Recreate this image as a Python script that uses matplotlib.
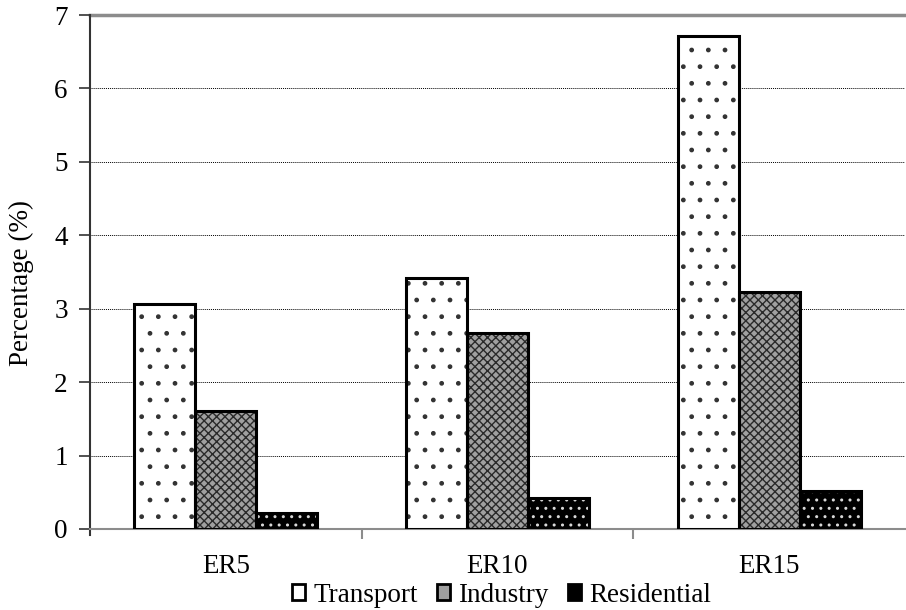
import matplotlib
matplotlib.use("Agg")
import matplotlib.pyplot as plt
from matplotlib.patches import Patch
import numpy as np

categories = ["ER5", "ER10", "ER15"]
series_names = ["Transport", "Industry", "Residential"]
transport = [3.06, 3.42, 6.71]
industry = [1.61, 2.67, 3.23]
residential = [0.22, 0.42, 0.52]
y_ticks = [0, 1, 2, 3, 4, 5, 6, 7]

plt.rcParams["font.family"] = ["Liberation Serif", "DejaVu Serif"]
plt.rcParams["hatch.linewidth"] = 1.0

FS = 19.5

fig = plt.figure(figsize=(9.06, 6.10), dpi=100)
ax = fig.add_axes([0.0993, 0.1328, 0.8997, 0.8426])

x = np.arange(len(categories))
w = 0.2245

styles = [
    dict(face="white", hatch_color="#333333", hatch="."),
    dict(face="#a0a0a0", hatch_color="#2a2a2a", hatch="xxxx"),
    dict(face="black", hatch_color="#d8d8d8", hatch=".."),
]
data = [transport, industry, residential]

for i, (vals, st) in enumerate(zip(data, styles)):
    pos = x + (i - 1) * w
    ax.bar(pos, vals, width=w, color=st["face"], edgecolor=st["hatch_color"],
           hatch=st["hatch"], linewidth=0, zorder=3)
    ax.bar(pos, vals, width=w, fill=False, edgecolor="black", linewidth=2.2, zorder=4)

ax.set_xlim(-0.5, 2.5)
ax.set_ylim(0, 7)
ax.set_yticks(y_ticks)
ax.set_yticklabels([str(t) for t in y_ticks], fontsize=FS)

# gridlines: dotted for interior, solid grey at the top
for t in y_ticks[1:-1]:
    ax.axhline(t, color="black", linestyle=(0, (1, 1)), linewidth=0.7, zorder=1)
ax.axhline(7, color="#8c8c8c", linewidth=2.5, zorder=1, clip_on=False)

# category labels centered, ticks at category boundaries
ax.set_xticks([0.5, 1.5], minor=False)
ax.set_xticklabels(["", ""])
ax.tick_params(axis="x", which="major", direction="out", length=7, width=1.5, color="#8c8c8c")
ax.set_xticks(x, minor=True)
ax.set_xticklabels(categories, minor=True, fontsize=FS)
ax.tick_params(axis="x", which="minor", length=0, pad=18)
ax.tick_params(axis="y", direction="out", length=8, width=1.2, pad=8, color="#333333")

ax.spines["top"].set_visible(False)
ax.spines["right"].set_visible(False)
ax.spines["left"].set_color("#333333")
ax.spines["left"].set_linewidth(1.5)
ax.spines["bottom"].set_color("#8c8c8c")
ax.spines["bottom"].set_linewidth(1.5)
ax.spines["left"].set_bounds(-0.08, 7)

ax.set_ylabel("Percentage (%)", fontsize=FS)
ax.yaxis.set_label_coords(-0.069, 0.479)

handles = []
for st in styles:
    handles.append(Patch(facecolor=st["face"], edgecolor="black", linewidth=2.0))
leg = ax.legend(handles, series_names, loc="center", bbox_to_anchor=(0.505, -0.129),
                ncol=3, frameon=False, fontsize=FS, handlelength=0.5, handleheight=0.5,
                handletextpad=0.3, columnspacing=0.7, borderaxespad=0, borderpad=0)

fig.savefig("out.png", dpi=100)
